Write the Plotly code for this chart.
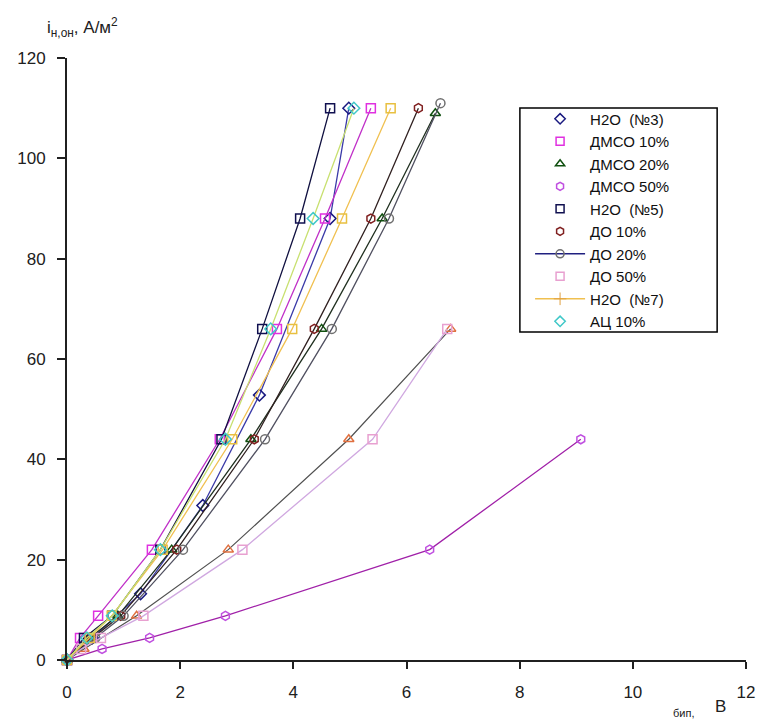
import plotly.graph_objects as go

# ---- data ----
levels = [0, 4.4, 8.8, 22, 44, 66, 88, 110]

h2o3_x = [0, 0.45, 1.3, 2.4, 3.4, 4.65, 4.98]
h2o3_y = [0, 4.4, 13.2, 30.8, 52.8, 88, 110]

dmso10_x = [0, 0.23, 0.55, 1.5, 2.7, 3.71, 4.56, 5.37]
dmso10_y = levels

dmso20_x = [0, 0.4, 0.9, 1.85, 3.25, 4.5, 5.57, 6.51]
dmso20_y = [0, 4.4, 8.8, 22, 44, 66, 88, 109]

dmso50_x = [0, 0.62, 1.46, 2.8, 6.41, 9.08]
dmso50_y = [0, 2.2, 4.4, 8.8, 22, 44]

h2o5_x = [0, 0.3, 0.8, 1.65, 2.73, 3.45, 4.12, 4.65]
h2o5_y = levels

do10_x = [0, 0.45, 0.95, 1.94, 3.31, 4.37, 5.37, 6.21]
do10_y = levels

do20_x = [0, 0.5, 1.0, 2.05, 3.5, 4.68, 5.69, 6.6]
do20_y = [0, 4.4, 8.8, 22, 44, 66, 88, 111]

do50_x = [0, 0.25, 0.6, 1.35, 3.1, 5.4, 6.72]
do50_y = [0, 2.2, 4.4, 8.8, 22, 44, 66]

h2o7_x = [0, 0.4, 0.79, 1.69, 2.92, 3.98, 4.86, 5.72]
h2o7_y = levels

ac10_x = [0, 0.35, 0.8, 1.65, 2.8, 3.6, 4.35, 5.07]
ac10_y = levels

extra_x = [0, 0.3, 1.23, 2.85, 4.98, 6.78]
extra_y = [0, 2.2, 8.8, 22, 44, 66]

x_ticks = [0, 2, 4, 6, 8, 10, 12]
y_ticks = [0, 20, 40, 60, 80, 100, 120]

# name, x, y, line colour, marker symbol, marker colour, legend shows line
series = [
    ("H2O  (№3)", h2o3_x, h2o3_y, "#3a3aa8", "diamond-open", "#1a1a80", False),
    ("ДМСО 10%", dmso10_x, dmso10_y, "#c030c8", "square-open", "#e030e0", False),
    ("ДМСО 20%", dmso20_x, dmso20_y, "#203020", "triangle-up-open", "#105010", False),
    ("ДМСО 50%", dmso50_x, dmso50_y, "#a020a8", "hexagon-open", "#c050e0", False),
    ("H2O  (№5)", h2o5_x, h2o5_y, "#101040", "square-open", "#101050", False),
    ("ДО 10%", do10_x, do10_y, "#302020", "hexagon-open", "#802020", False),
    ("ДО 20%", do20_x, do20_y, "#505060", "circle-open", "#707070", True),
    ("ДО 50%", do50_x, do50_y, "#d0a8e0", "square-open", "#e8a0d0", False),
    ("H2O  (№7)", h2o7_x, h2o7_y, "#f0c050", "square-open", "#e8c040", True),
    ("АЦ 10%", ac10_x, ac10_y, "#c8e070", "diamond-open", "#40c8c8", False),
]

fig = go.Figure()

# unlabeled triangle series (not in legend)
fig.add_trace(go.Scatter(
    x=extra_x, y=extra_y, mode="lines+markers", showlegend=False,
    line=dict(color="#505050", width=1.2),
    marker=dict(symbol="triangle-up-open", size=9, color="#e07040", line=dict(width=1.5)),
    cliponaxis=False,
))

for name, xs, ys, lc, sym, mc, legline in series:
    fig.add_trace(go.Scatter(
        x=xs, y=ys, mode="lines+markers", showlegend=False, legendgroup=name,
        line=dict(color=lc, width=1.3),
        marker=dict(symbol=sym, size=9, color=mc, line=dict(width=1.5)),
        cliponaxis=False,
    ))
    if name.startswith("H2O  (№7)"):
        fig.add_trace(go.Scatter(
            x=[None], y=[None], mode="lines+markers", name=name, legendgroup=name,
            line=dict(color=lc, width=1.5),
            marker=dict(symbol="cross-thin-open", size=9, color="#e0a040", line=dict(width=1)),
        ))
    else:
        fig.add_trace(go.Scatter(
            x=[None], y=[None], mode="lines+markers" if legline else "markers",
            name=name, legendgroup=name,
            line=dict(color="#202080" if legline else lc, width=1.5),
            marker=dict(symbol=sym, size=8, color=mc, line=dict(width=1.5)),
        ))

font_main = "Liberation Sans, Arial, sans-serif"

fig.update_layout(
    width=767, height=722,
    margin=dict(l=67, r=18, t=58, b=62),
    plot_bgcolor="white", paper_bgcolor="white",
    font=dict(family=font_main, size=17, color="#202020"),
    showlegend=True,
    legend=dict(
        x=0.682, y=0.926, xanchor="left", yanchor="top",
        bgcolor="rgba(0,0,0,0)", borderwidth=0,
        font=dict(size=15, color="#101010"),
        itemwidth=50, tracegroupgap=0,
    ),
    shapes=[
        dict(type="rect", xref="paper", yref="paper",
             x0=0.667, x1=0.9575, y0=0.545, y1=0.917,
             line=dict(color="black", width=1.5), fillcolor="white", layer="above"),
    ],
    xaxis=dict(
        range=[0, 12], tickvals=x_ticks, showgrid=False, zeroline=False,
        showline=True, linecolor="#202020", linewidth=2,
        ticks="outside", ticklen=7, tickwidth=1.5, tickcolor="#202020",
        ticklabelstandoff=9,
    ),
    yaxis=dict(
        range=[0, 120], tickvals=y_ticks, showgrid=False, zeroline=False,
        showline=True, linecolor="#202020", linewidth=2,
        ticks="outside", ticklen=8, tickwidth=1.5, tickcolor="#202020",
        ticklabelstandoff=8,
    ),
    annotations=[
        dict(text="i<sub>н,он</sub>, А/м<sup>2</sup>", xref="paper", yref="paper",
             x=-0.033, y=1.05, xanchor="left", yanchor="middle", showarrow=False,
             font=dict(size=17, color="#202020")),
        dict(text="бип,", xref="paper", yref="paper",
             x=0.889, y=-0.088, xanchor="left", yanchor="middle", showarrow=False,
             font=dict(size=11, color="#202020")),
        dict(text="В", xref="paper", yref="paper",
             x=0.962, y=-0.078, xanchor="center", yanchor="middle", showarrow=False,
             font=dict(size=17, color="#202020")),
    ],
)

fig.write_html("out.html")
